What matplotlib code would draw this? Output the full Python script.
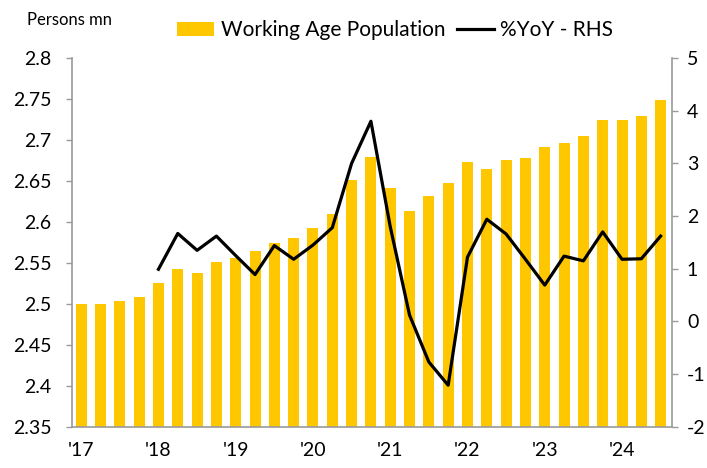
import numpy as np
import matplotlib
matplotlib.use('Agg')
import matplotlib.pyplot as plt

plt.rcParams['font.family'] = ['Lato', 'DejaVu Sans']
plt.rcParams['axes.unicode_minus'] = False

# quarterly, 2017Q1 .. 2024Q3
years = ["'17", "'18", "'19", "'20", "'21", "'22", "'23", "'24"]
population = [2.500, 2.500, 2.504, 2.509, 2.525, 2.542, 2.538, 2.551,
              2.556, 2.564, 2.574, 2.581, 2.593, 2.610, 2.651, 2.679,
              2.642, 2.613, 2.632, 2.647, 2.673, 2.664, 2.676, 2.678,
              2.691, 2.696, 2.705, 2.724, 2.724, 2.729, 2.749]
yoy = [np.nan, np.nan, np.nan, np.nan, 0.99, 1.67, 1.35, 1.62,
       1.25, 0.89, 1.44, 1.18, 1.45, 1.78, 3.0, 3.8,
       1.8, 0.12, -0.77, -1.21, 1.22, 1.94, 1.66, 1.18,
       0.69, 1.24, 1.15, 1.70, 1.18, 1.19, 1.62]

gold = '#FFC700'
grey = '#999999'

x = np.arange(len(population))

fig = plt.figure(figsize=(7.07, 4.68), dpi=100)
ax = fig.add_axes([0.102, 0.088, 0.848, 0.788])
ax2 = ax.twinx()

bars = ax.bar(x, population, width=0.57, color=gold, label='Working Age Population', zorder=2)
line, = ax2.plot(x, yoy, color='black', lw=2.3, label='%YoY - RHS', zorder=3)

ax.set_xlim(-0.47, 30.57)
ax.set_ylim(2.35, 2.8)
ax.set_yticks(np.arange(2.35, 2.801, 0.05))
ax.set_yticklabels(['2.35', '2.4', '2.45', '2.5', '2.55', '2.6', '2.65', '2.7', '2.75', '2.8'])
ax2.set_ylim(-2, 5)
ax2.set_yticks(range(-2, 6))

ax.set_xticks(np.arange(0, len(population), 4))
ax.set_xticklabels(years)

for a in (ax, ax2):
    a.spines['top'].set_visible(False)
    for s in ('left', 'right', 'bottom'):
        a.spines[s].set_color(grey)
        a.spines[s].set_linewidth(1.2)
    a.tick_params(axis='y', colors=grey, labelcolor='black', labelsize=14, length=4, width=1)
ax.spines['right'].set_visible(False)
ax2.spines['left'].set_visible(False)
ax2.spines['bottom'].set_visible(False)
ax.tick_params(axis='x', length=0, labelsize=14, pad=11)
ax.tick_params(axis='y', pad=11)
ax2.tick_params(axis='y', pad=7)

fig.text(0.038, 0.957, 'Persons mn', fontsize=12, va='center', ha='left')
fig.legend(handles=[bars, line], loc='center', bbox_to_anchor=(0.559, 0.935), ncol=2,
           frameon=False, fontsize=15, handlelength=1.8, handletextpad=0.3,
           columnspacing=0.55)

fig.savefig('out.png', dpi=100)
